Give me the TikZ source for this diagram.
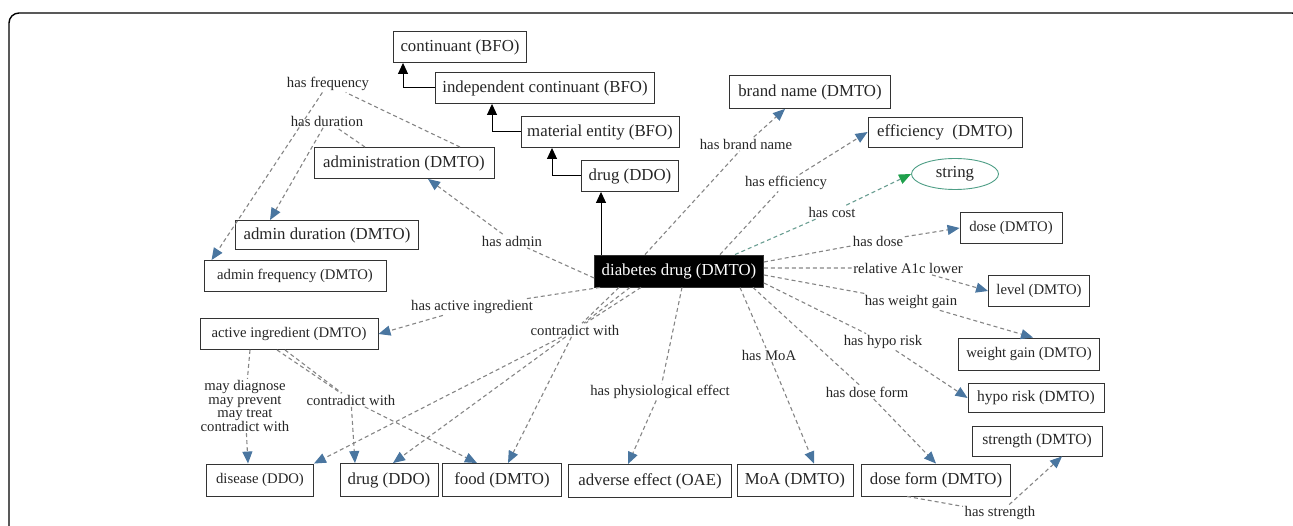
\documentclass[tikz,border=0pt]{standalone}
\usepackage{fontspec}
\setmainfont{Liberation Serif}
\usetikzlibrary{arrows.meta,shapes.geometric,positioning}
\definecolor{edgegray}{HTML}{858585}
\definecolor{tipblue}{HTML}{4A76A0}
\definecolor{costgreen}{HTML}{1FA04C}
\definecolor{costline}{HTML}{6A9E92}
\definecolor{ovalteal}{HTML}{4E9E86}

\begin{document}
\begin{tikzpicture}[x=1pt,y=-1pt,
	cls/.style={draw=black!80,line width=0.9pt,fill=white,text=black!85,minimum height=31pt,inner sep=2pt,font=\fontsize{16.8}{18}\selectfont},
	cl/.style={cls,font=\fontsize{14.7}{16}\selectfont},
	lbl/.style={text=black!85,inner sep=1.5pt,font=\fontsize{14.7}{16}\selectfont},
	rel/.style={draw=edgegray,line width=1.1pt,dash pattern=on 4pt off 3pt,-{Triangle[length=12pt,width=10pt,color=tipblue,fill=tipblue]}},
	isa/.style={draw=black,line width=1pt,-{Triangle[length=11pt,width=10pt]}}]
	\useasboundingbox (0,0) rectangle (1293,526);
	\clip (0,0) rectangle (1293,526);
	\draw[line width=1.4pt,rounded corners=10pt] (9,13) rectangle (1302,560);

	\node[cls,minimum width=133pt] (cont) at (460,47) {continuant (BFO)};
	\node[cls,minimum width=219pt] (indep) at (545,88) {independent continuant (BFO)};
	\node[cls,minimum width=158pt] (mat) at (600,132) {material entity (BFO)};
	\node[cls,minimum width=97pt] (drugT) at (630,176) {drug (DDO)};
	\node[cls,minimum width=180pt] (adm) at (404,163) {administration (DMTO)};
	\node[cls,minimum width=183pt,minimum height=29pt] (admDur) at (327,235) {admin duration (DMTO)};
	\node[cl,minimum width=182pt] (admFreq) at (295,276) {admin frequency (DMTO)};
	\node[cls,minimum width=161pt,minimum height=33pt] (brand) at (810,92) {brand name (DMTO)};
	\node[cls,minimum width=154pt,minimum height=30pt] (eff) at (945,132) {efficiency\ \ (DMTO)};
	\node[draw=ovalteal,line width=0.9pt,ellipse,minimum width=87pt,minimum height=31pt,inner sep=0pt,text=black!85,font=\fontsize{16.8}{18}\selectfont] (str) at (955,174) {string};
	\node[cl,minimum width=102pt] (dose) at (1011,228) {dose (DMTO)};
	\node[cl,minimum width=101pt] (level) at (1039,291) {level (DMTO)};
	\node[cl,minimum width=141pt,minimum height=32pt] (wgain) at (1029,354) {weight gain (DMTO)};
	\node[cl,minimum width=136pt,minimum height=29pt,font=\fontsize{15.5}{17}\selectfont] (hypo) at (1036,398) {hypo risk (DMTO)};
	\node[cl,minimum width=130pt,minimum height=30pt,font=\fontsize{15.5}{17}\selectfont] (stren) at (1037,441) {strength (DMTO)};
	\node[cls,minimum width=149pt,minimum height=32pt] (dform) at (936,480) {dose form (DMTO)};
	\node[cls,minimum width=116pt,minimum height=32pt] (moa) at (795,480) {MoA (DMTO)};
	\node[cls,minimum width=163pt,minimum height=33pt] (adv) at (650,481) {adverse effect (OAE)};
	\node[cls,minimum width=119pt,minimum height=33pt] (food) at (502,480) {food (DMTO)};
	\node[cls,minimum width=98pt,minimum height=33pt] (drugB) at (389,480) {drug (DDO)};
	\node[cl,minimum width=107pt,minimum height=32pt] (dis) at (260,480) {disease (DDO)};
	\node[cl,minimum width=178pt] (ai) at (289,334) {active ingredient (DMTO)};
	\node[cls,fill=black,text=white,minimum width=169pt,minimum height=32pt] (dd) at (679,271) {diabetes drug (DMTO)};

	\node[lbl] (lFreq) at (328,84) {has frequency};
	\node[lbl] (lDur) at (327,121) {has duration};
	\node[lbl] (lAdmin) at (512,241) {has admin};
	\node[lbl] (lAct) at (472,307) {has active ingredient};
	\node[lbl] (lContra) at (575,330) {contradict with};
	\node[lbl,align=center,font=\fontsize{14.7}{13.5}\selectfont] (lMay) at (245,406) {may diagnose\\may prevent\\may treat\\contradict with};
	\node[lbl] (lContraB) at (351,400) {contradict with};
	\node[lbl] (lPhys) at (660,392) {has physiological effect};
	\node[lbl] (lMoA) at (769,355) {has MoA};
	\node[lbl] (lDform) at (867,392) {has dose form};
	\node[lbl] (lHypo) at (883,342) {has hypo risk};
	\node[lbl] (lWgain) at (911,302) {has weight gain};
	\node[lbl] (lA1c) at (908,268) {relative A1c lower};
	\node[lbl] (lDose) at (878,241) {has dose};
	\node[lbl] (lCost) at (832,212) {has cost};
	\node[lbl] (lEff) at (786,183) {has efficiency};
	\node[lbl] (lBrand) at (746,144) {has brand name};
	\node[lbl] (lStren) at (1000,513) {has strength};

	\draw[isa] (indep.west) -| ([xshift=-57pt]cont.south);
	\draw[isa] (mat.west) -| ([xshift=-53pt]indep.south);
	\draw[isa] (drugT.west) -| ([xshift=-48pt]mat.south);
	\draw[isa] ([xshift=-78pt]dd.north) -- ([xshift=-78pt]dd.north |- drugT.south);

	\draw[rel] ([xshift=56pt]adm.north) -- (lFreq) -- ([xshift=8pt]admFreq.north west);
	\draw[rel] ([xshift=-39pt]adm.north) -- (lDur) -- ([xshift=-57pt]admDur.north);
	\draw[rel] ([yshift=-7pt]dd.west) -- (lAdmin) -- ([xshift=24pt]adm.south);
	\draw[rel] ([xshift=6pt]dd.south west) -- (lAct) -- (ai.east);
	\draw[rel] ([xshift=-60pt]dd.south) -- (lContra) -- (dis.north east);
	\draw[rel] ([xshift=-49pt]dd.south) -- (lContra) -- ([xshift=4pt]drugB.north);
	\draw[rel] ([xshift=-38pt]dd.south) -- (lContra) -- ([xshift=6pt]food.north);
	\draw[rel] ([xshift=3pt]dd.south) -- (lPhys) -- ([xshift=-22pt]adv.north);
	\draw[rel] ([xshift=61pt]dd.south) -- (lMoA) -- ([xshift=19pt]moa.north);
	\draw[rel] ([xshift=74pt]dd.south) -- (lDform) -- (dform.north);
	\draw[rel] ([yshift=-12pt]dd.east) -- (lHypo) -- (hypo.west);
	\draw[rel] ([yshift=-4pt]dd.east) -- (lWgain) -- ([xshift=4pt]wgain.north);
	\draw[rel] ([yshift=3pt]dd.east) -- (lA1c) -- (level.west);
	\draw[rel] ([yshift=9pt]dd.east) -- (lDose) -- (dose.west);
	\draw[rel,draw=costline,-{Triangle[length=12pt,width=10pt,color=costgreen,fill=costgreen]}] ([xshift=56pt]dd.north) -- (lCost) -- (str.west);
	\draw[rel] ([xshift=41pt]dd.north) -- (lEff) -- (eff.west);
	\draw[rel] ([xshift=-34pt]dd.north) -- (lBrand) -- ([xshift=-25pt]brand.south);
	\draw[rel] ([xshift=-39pt]ai.south) -- (lMay) -- ([xshift=-12pt]dis.north);
	\draw[rel] ([xshift=-12pt]ai.south) -- (lContraB) -- ([xshift=-34pt]drugB.north);
	\draw[rel] ([xshift=-4pt]ai.south) -- (lContraB) -- ([xshift=-25pt]food.north);
	\draw[rel] ([xshift=-29pt]dform.south) -- (lStren) -- ([xshift=25pt]stren.south);
\end{tikzpicture}
\end{document}
